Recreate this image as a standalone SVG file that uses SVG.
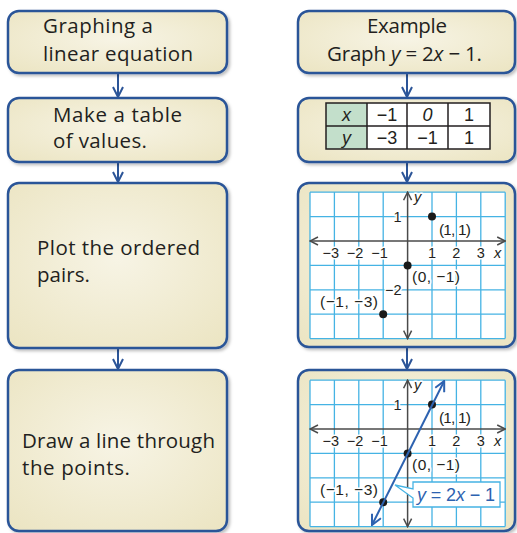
<svg xmlns="http://www.w3.org/2000/svg" width="517" height="533" viewBox="0 0 517 533">
<style>
.box{fill:url(#bg);stroke:#2c5598;stroke-width:2.5;filter:url(#sh)}
.t{font-family:"Open Sans","Liberation Sans",sans-serif;font-size:20.5px;fill:#231f20}
.gl{stroke:#45b3e4;stroke-width:1.3;fill:none}
.ax{stroke:#4a4a4a;stroke-width:1.5;fill:none}
.lb{font-family:"Liberation Sans",Arial,sans-serif;font-size:14.5px;fill:#231f20;stroke:#fff;stroke-width:3;paint-order:stroke;stroke-linejoin:round}
.pl{font-size:15.5px}
.it{font-style:italic}
.conn{stroke:#2c5598;stroke-width:2;fill:none}
.tb{font-family:"Liberation Sans",Arial,sans-serif;font-size:18px;fill:#231f20;text-anchor:middle}
.cell{stroke:#231f20;stroke-width:1.5}
</style>
<defs>
<radialGradient id="bg" cx="0.5" cy="0.45" r="0.75">
<stop offset="0" stop-color="#f7f4e5"/>
<stop offset="1" stop-color="#ebe4c1"/>
</radialGradient>
<filter id="sh" x="-5%" y="-5%" width="115%" height="115%">
<feDropShadow dx="2" dy="2" stdDeviation="1.5" flood-color="#000" flood-opacity="0.25"/>
</filter>
<marker id="ca" viewBox="0 0 12 12" refX="11" refY="6" markerWidth="12" markerHeight="12" markerUnits="userSpaceOnUse" orient="auto"><path d="M1,1 L11,6 L1,11" fill="none" stroke="#2c5598" stroke-width="2"/></marker>
<marker id="aa" viewBox="0 0 10 10" refX="9" refY="5" markerWidth="10" markerHeight="10" markerUnits="userSpaceOnUse" orient="auto-start-reverse"><path d="M1,1 L9,5 L1,9" fill="none" stroke="#4a4a4a" stroke-width="1.5"/></marker>
<marker id="la" viewBox="0 0 12 12" refX="11" refY="6" markerWidth="12" markerHeight="12" markerUnits="userSpaceOnUse" orient="auto-start-reverse"><path d="M1,1 L11,6 L1,11" fill="none" stroke="#2d62b0" stroke-width="2"/></marker>
<g id="grid">
<rect x="310" y="0" width="195.2" height="146.4" fill="#fff"/>
<path class="gl" d="M310,0V146.4M334.4,0V146.4M358.8,0V146.4M383.2,0V146.4M432,0V146.4M456.4,0V146.4M480.8,0V146.4M505.2,0V146.4M310,0H505.2M310,24.4H505.2M310,73.2H505.2M310,97.6H505.2M310,122H505.2M310,146.4H505.2"/>
<path class="ax" d="M310,48.8H505.2" marker-start="url(#aa)" marker-end="url(#aa)"/>
<path class="ax" d="M407.6,0V146.4" marker-start="url(#aa)" marker-end="url(#aa)"/>
<text class="lb it" x="414" y="10">y</text>
<text class="lb" x="401.5" y="29.5" text-anchor="end">1</text>
<text class="lb" x="339" y="66" text-anchor="end">−3</text>
<text class="lb" x="363.4" y="66" text-anchor="end">−2</text>
<text class="lb" x="387.8" y="66" text-anchor="end">−1</text>
<text class="lb" x="432" y="66" text-anchor="middle">1</text>
<text class="lb" x="456.4" y="66" text-anchor="middle">2</text>
<text class="lb" x="480.8" y="66" text-anchor="middle">3</text>
<text class="lb it" x="494" y="66">x</text>
<text class="lb pl" x="439" y="43" textLength="32">(1, 1)</text>
<text class="lb pl" x="412" y="90" textLength="48">(0, −1)</text>
<text class="lb pl" x="320" y="115" textLength="58">(−1, −3)</text>
<circle cx="432" cy="24.4" r="4" fill="#1a1a1a"/>
<circle cx="407.6" cy="73.2" r="4" fill="#1a1a1a"/>
<circle cx="383.2" cy="122" r="4" fill="#1a1a1a"/>
</g>
</defs>
<rect width="517" height="533" fill="#fff"/>
<g id="connectors">
<path class="conn" d="M118,73V97" marker-end="url(#ca)"/>
<path class="conn" d="M118,162V182" marker-end="url(#ca)"/>
<path class="conn" d="M118,348V369" marker-end="url(#ca)"/>
<path class="conn" d="M407,73V97" marker-end="url(#ca)"/>
<path class="conn" d="M407,162V182" marker-end="url(#ca)"/>
<path class="conn" d="M407,347V369" marker-end="url(#ca)"/>
</g>
<g id="n1">
<rect class="box" x="8" y="11" width="219" height="62" rx="11"/>
<text class="t" x="43" y="33" textLength="110">Graphing a</text>
<text class="t" x="43" y="61" textLength="150">linear equation</text>
</g>
<g id="n2">
<rect class="box" x="8" y="98" width="219" height="64" rx="11"/>
<text class="t" x="53" y="122" textLength="129">Make a table</text>
<text class="t" x="53" y="148" textLength="94">of values.</text>
</g>
<g id="n3">
<rect class="box" x="8" y="183" width="219" height="165" rx="11"/>
<text class="t" x="37" y="255" textLength="163">Plot the ordered</text>
<text class="t" x="37" y="282" textLength="53">pairs.</text>
</g>
<g id="n4">
<rect class="box" x="8" y="370" width="219" height="161" rx="11"/>
<text class="t" x="22" y="448" textLength="193">Draw a line through</text>
<text class="t" x="22" y="475" textLength="108">the points.</text>
</g>
<g id="n5">
<rect class="box" x="298" y="11" width="217" height="62" rx="11"/>
<text class="t" x="407" y="33" text-anchor="middle" textLength="80">Example</text>
<text class="t" x="327" y="61" textLength="155">Graph <tspan font-style="italic">y</tspan> = 2<tspan font-style="italic">x</tspan> − 1.</text>
</g>
<g id="n6">
<rect class="box" x="298" y="98" width="217" height="64" rx="11"/>
<rect x="326" y="103" width="41" height="46" fill="#c3dfcb"/>
<rect x="367" y="103" width="123" height="46" fill="#fff"/>
<path class="cell" fill="none" d="M326,103H490V149H326ZM326,126H490M367,103V149M407,103V149M448,103V149"/>
<text class="tb it" x="346.5" y="121">x</text>
<text class="tb" x="387" y="121">−1</text>
<text class="tb it" x="427.5" y="121">0</text>
<text class="tb" x="469" y="121">1</text>
<text class="tb it" x="346.5" y="144">y</text>
<text class="tb" x="387" y="144">−3</text>
<text class="tb" x="427.5" y="144">−1</text>
<text class="tb" x="469" y="144">1</text>
</g>
<g id="n7">
<rect class="box" x="298" y="183" width="217" height="164" rx="11"/>
<use href="#grid" y="192.2"/>
<text class="lb" x="401.5" y="295" text-anchor="end">−2</text>
</g>
<g id="n8">
<rect class="box" x="298" y="370" width="217" height="161" rx="11"/>
<use href="#grid" y="380.2"/>
<path d="M372,525L444.2,381" stroke="#2d62b0" stroke-width="2" fill="none" marker-start="url(#la)" marker-end="url(#la)"/>
<path d="M413,482H500V507H413V498L395,485L413,489Z" fill="#fff" stroke="#45b3e4" stroke-width="1.3"/>
<text x="417" y="500.5" font-family="Liberation Sans,Arial,sans-serif" font-size="18" fill="#2d62b0" textLength="78"><tspan font-style="italic">y</tspan> = 2<tspan font-style="italic">x</tspan> − 1</text>
</g>
</svg>
